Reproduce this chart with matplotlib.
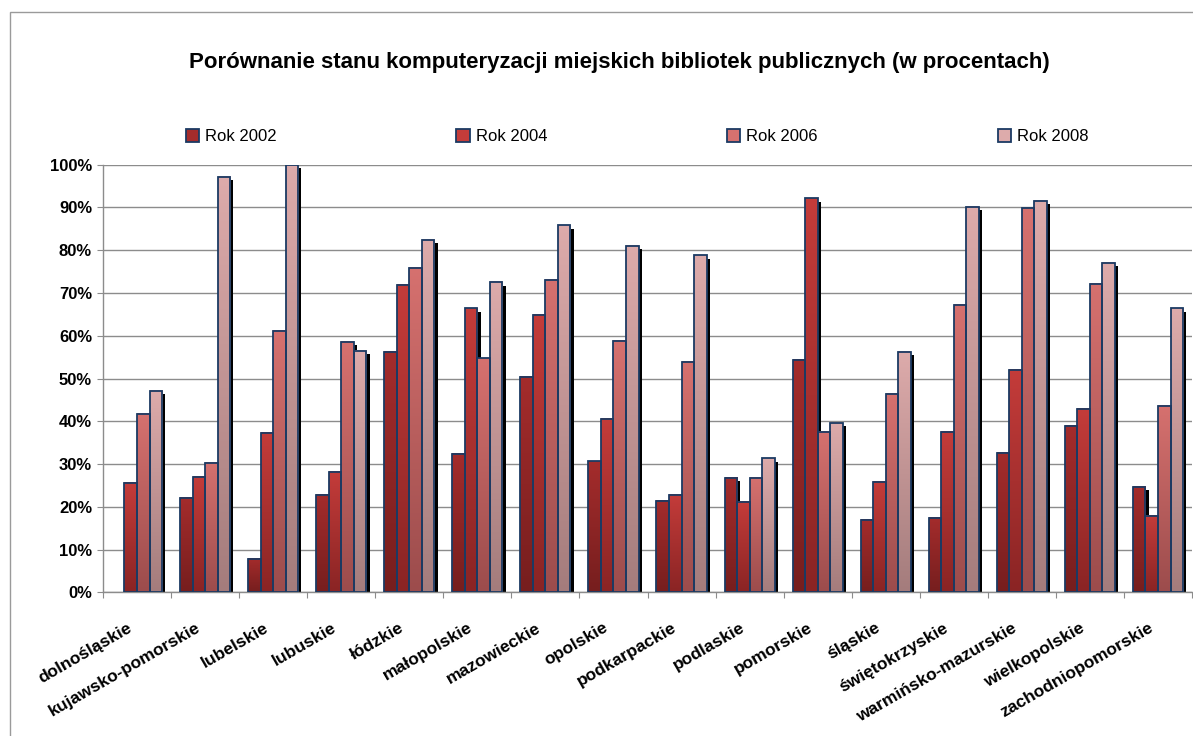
import numpy as np
import matplotlib
matplotlib.use("Agg")
import matplotlib.pyplot as plt
from matplotlib.colors import LinearSegmentedColormap
from matplotlib.patches import Patch, Rectangle
from matplotlib.transforms import offset_copy, ScaledTranslation

plt.rcParams['font.family'] = ['Liberation Sans', 'DejaVu Sans']

# data (percent)
regions = ["dolnośląskie", "kujawsko-pomorskie", "lubelskie", "lubuskie", "łódzkie",
           "małopolskie", "mazowieckie", "opolskie", "podkarpackie", "podlaskie",
           "pomorskie", "śląskie", "świętokrzyskie", "warmińsko-mazurskie",
           "wielkopolskie", "zachodniopomorskie"]
rok_2002 = [np.nan, 22.0, 7.9, 22.7, 56.2, 32.3, 50.4, 30.6, 21.4, 26.8, 54.3, 17.0, 17.4, 32.7, 39.0, 24.6]
rok_2004 = [25.6, 27.0, 37.3, 28.1, 71.9, 66.4, 64.8, 40.5, 22.8, 21.2, 92.1, 25.9, 37.6, 52.0, 42.9, 17.9]
rok_2006 = [41.7, 30.2, 61.1, 58.5, 75.9, 54.7, 73.1, 58.8, 53.8, 26.8, 37.5, 46.4, 67.2, 89.8, 72.2, 43.5]
rok_2008 = [47.1, 97.2, 100.0, 56.4, 82.5, 72.5, 85.8, 81.0, 78.8, 31.3, 39.6, 56.2, 90.2, 91.6, 77.1, 66.4]
series = [rok_2002, rok_2004, rok_2006, rok_2008]
series_names = ["Rok 2002", "Rok 2004", "Rok 2006", "Rok 2008"]

# (top colour, bottom colour) of each series gradient
grad_colors = [("#a42c2c", "#761e1e"),
               ("#c43c3a", "#8a2424"),
               ("#d6716f", "#9c4c4c"),
               ("#ddabab", "#a47c7c")]
edge = "#1b3a63"
grid_col = "#8c8c8c"

fig = plt.figure(figsize=(11.93, 7.36), dpi=100)
ax = fig.add_axes([0.0863, 0.1952, 0.9129, 0.581])

x = np.arange(len(regions))
width = 0.184
offsets = (np.arange(4) - 1.5) * width

shadow_tr = offset_copy(ax.transData, fig=fig, x=3.3, y=-3.3, units='dots')
grad = np.linspace(0, 1, 256).reshape(-1, 1)

for i, vals in enumerate(series):
    v = np.array(vals, dtype=float) / 100
    ok = ~np.isnan(v)
    # shadow behind every bar
    ax.bar(x[ok] + offsets[i], v[ok], width, color="black", transform=shadow_tr, zorder=1.5)
    cmap = LinearSegmentedColormap.from_list("g%d" % i, [grad_colors[i][1], grad_colors[i][0]])
    bars = ax.bar(x[ok] + offsets[i], v[ok], width, facecolor="none", edgecolor=edge,
                  linewidth=1.3, zorder=3)
    for b in bars:
        x0, h = b.get_x(), b.get_height()
        ax.imshow(grad, extent=[x0, x0 + b.get_width(), 0, h], origin="lower",
                  aspect="auto", cmap=cmap, zorder=2, interpolation="bilinear")

ax.set_xlim(-0.5, len(regions) - 0.5)
ax.set_ylim(0, 1)

# y axis
ax.set_yticks(np.arange(0, 1.01, 0.1))
ax.set_yticklabels(["%d%%" % round(t * 100) for t in np.arange(0, 1.01, 0.1)],
                   fontsize=12, fontweight="bold")
ax.tick_params(axis="y", length=4.3, color=grid_col, pad=3.5)
ax.yaxis.grid(True, color=grid_col, linewidth=1)
ax.set_axisbelow(True)

# x axis: tick marks at category boundaries, labels at centres
ax.set_xticks(np.arange(len(regions) + 1) - 0.5)
ax.set_xticklabels([])
ax.set_xticks(x, minor=True)
ax.set_xticklabels(regions, minor=True, rotation=30, ha="right", va="top",
                   rotation_mode="anchor", fontsize=12.5, fontweight="bold")
ax.tick_params(axis="x", which="major", length=4.3, color=grid_col, direction="out")
ax.tick_params(axis="x", which="minor", length=0, pad=20)
shift = ScaledTranslation(-10 / 100, 0, fig.dpi_scale_trans)
for lab in ax.get_xticklabels(minor=True):
    lab.set_transform(lab.get_transform() + shift)

for s in ["top", "right"]:
    ax.spines[s].set_visible(False)
for s in ["left", "bottom"]:
    ax.spines[s].set_color(grid_col)
    ax.spines[s].set_linewidth(1)

# title and legend
fig.text(0.519, 0.915, "Porównanie stanu komputeryzacji miejskich bibliotek publicznych (w procentach)",
         ha="center", va="center", fontsize=16, fontweight="bold")

handles = [Patch(facecolor=grad_colors[i][0], edgecolor=edge, linewidth=1.3) for i in range(4)]
fig.legend(handles, series_names, loc="center", bbox_to_anchor=(0.534, 0.814), ncol=4,
           frameon=False, fontsize=12, handlelength=0.8, handleheight=0.8,
           handletextpad=0.35, columnspacing=10.8)

# outer chart frame
fig.add_artist(Rectangle((0.008, -0.1), 1.2, 1.1 - 0.0163, transform=fig.transFigure,
                         fill=False, edgecolor="#9a9a9a", linewidth=1, clip_on=False))

fig.savefig("out.png", dpi=100)
